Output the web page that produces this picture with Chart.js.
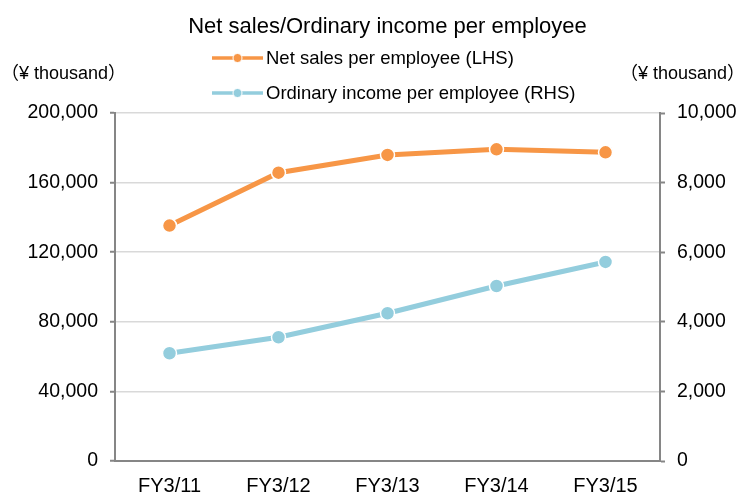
<!DOCTYPE html>
<html>
<head>
<meta charset="utf-8">
<script src="https://cdn.jsdelivr.net/npm/chart.js@4/dist/chart.umd.min.js"></script>
<style>
html,body{margin:0;padding:0;background:#fff;}
#wrap{width:738px;height:493px;position:relative;}
</style>
</head>
<body>
<div id="wrap"><canvas id="c" width="738" height="493"></canvas></div>
<script>
const titleText = "Net sales/Ordinary income per employee";
const unitLabel = "（¥ thousand）";
const categories = ["FY3/11", "FY3/12", "FY3/13", "FY3/14", "FY3/15"];
const netSalesPerEmployee = [135300, 165700, 175900, 179100, 177400];
const ordinaryIncomePerEmployee = [3095, 3555, 4245, 5030, 5720];
const seriesNames = ["Net sales per employee (LHS)", "Ordinary income per employee (RHS)"];
const leftTicks = [0, 40000, 80000, 120000, 160000, 200000];
const rightTicks = [0, 2000, 4000, 6000, 8000, 10000];

const ORANGE = "#F79646";
const BLUE = "#93CDDD";
const AXIS = "#868686";
const GRID = "#D9D9D9";
const FONT = "'Liberation Sans', Arial, 'Noto Sans CJK JP', sans-serif";

const fmt = v => v.toLocaleString("en-US");

const decorPlugin = {
  id: "decor",
  afterDraw(chart) {
    const ctx = chart.ctx;
    const ca = chart.chartArea;
    ctx.save();
    ctx.fillStyle = "#000";
    ctx.textBaseline = "middle";
    // title
    ctx.font = "22px " + FONT;
    ctx.textAlign = "center";
    ctx.fillText(titleText, (ca.left + ca.right) / 2, 26.5);
    // unit labels
    ctx.font = "18px " + FONT;
    ctx.textAlign = "left";
    ctx.fillText(unitLabel, 1, 74);
    ctx.textAlign = "right";
    ctx.fillText(unitLabel, 745, 74);
    // legend
    const rows = [58, 93];
    chart.data.datasets.forEach((ds, i) => {
      const y = rows[i];
      ctx.strokeStyle = ds.borderColor;
      ctx.lineWidth = 3.5;
      ctx.beginPath();
      ctx.moveTo(212, y);
      ctx.lineTo(263, y);
      ctx.stroke();
      ctx.fillStyle = ds.borderColor;
      ctx.beginPath();
      ctx.arc(237.5, y, 4.5, 0, Math.PI * 2);
      ctx.fill();
      ctx.strokeStyle = "#fff";
      ctx.lineWidth = 1;
      ctx.stroke();
      ctx.fillStyle = "#000";
      ctx.font = "18.5px " + FONT;
      ctx.textAlign = "left";
      ctx.fillText(ds.label, 266, y + 1);
    });
    ctx.restore();
  }
};

new Chart(document.getElementById("c"), {
  type: "line",
  data: {
    labels: categories,
    datasets: [
      {
        label: seriesNames[0],
        data: netSalesPerEmployee,
        yAxisID: "yL",
        borderColor: ORANGE,
        backgroundColor: ORANGE,
        borderWidth: 5,
        pointRadius: 7,
        pointBorderColor: "#fff",
        pointBorderWidth: 1.5,
        pointBackgroundColor: ORANGE,
        tension: 0
      },
      {
        label: seriesNames[1],
        data: ordinaryIncomePerEmployee,
        yAxisID: "yR",
        borderColor: BLUE,
        backgroundColor: BLUE,
        borderWidth: 5,
        pointRadius: 7,
        pointBorderColor: "#fff",
        pointBorderWidth: 1.5,
        pointBackgroundColor: BLUE,
        tension: 0
      }
    ]
  },
  options: {
    responsive: false,
    animation: false,
    devicePixelRatio: 1,
    layout: { padding: { top: 113, left: 0, right: 0, bottom: 0 } },
    plugins: {
      legend: { display: false },
      title: { display: false },
      tooltip: { enabled: false }
    },
    scales: {
      x: {
        offset: true,
        grid: { display: false, drawTicks: false },
        border: { display: true, color: AXIS, width: 2 },
        ticks: { color: "#000", font: { family: FONT, size: 20 }, padding: 13, maxRotation: 0 },
        afterFit(s) { s.height = 32; }
      },
      yL: {
        position: "left",
        min: 0,
        max: 200000,
        afterBuildTicks(s) { s.ticks = leftTicks.map(v => ({ value: v })); },
        ticks: { color: "#000", font: { family: FONT, size: 19.5 }, padding: 12, callback: v => fmt(v) },
        grid: { color: GRID, lineWidth: 1.5, tickColor: AXIS, tickLength: 5, tickWidth: 2 },
        border: { display: true, color: AXIS, width: 2 },
        afterFit(s) { s.width = 115; }
      },
      yR: {
        position: "right",
        min: 0,
        max: 10000,
        afterBuildTicks(s) { s.ticks = rightTicks.map(v => ({ value: v })); },
        ticks: { color: "#000", font: { family: FONT, size: 19.5 }, padding: 12, callback: v => fmt(v) },
        grid: { drawOnChartArea: false, tickColor: AXIS, tickLength: 5, tickWidth: 2 },
        border: { display: true, color: AXIS, width: 2 },
        afterFit(s) { s.width = 78; }
      }
    }
  },
  plugins: [decorPlugin]
});
</script>
</body>
</html>
